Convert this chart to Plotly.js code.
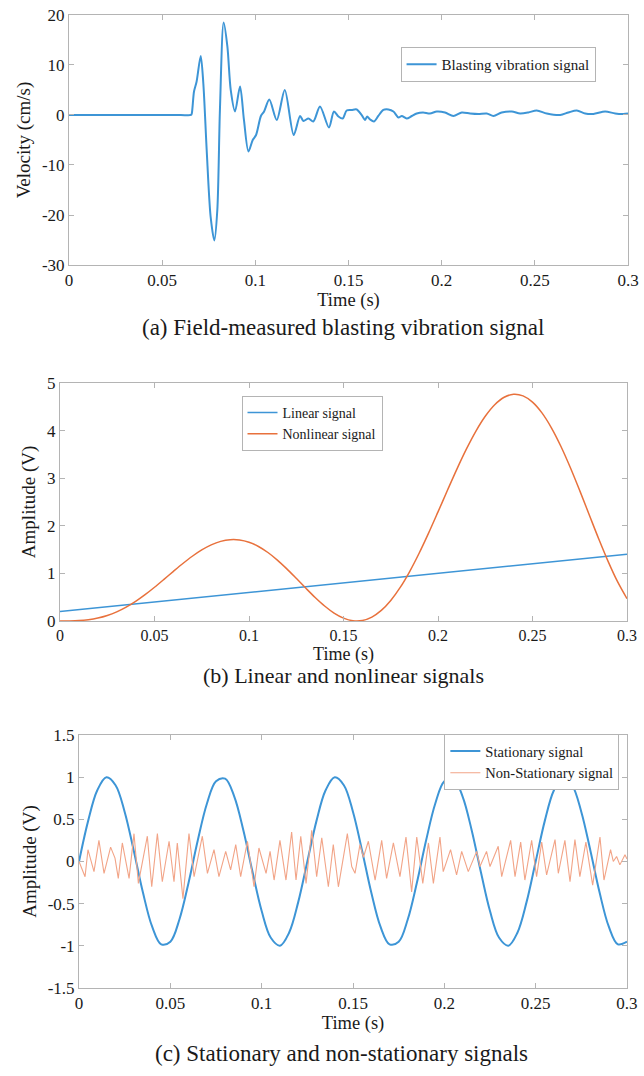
<!DOCTYPE html>
<html><head><meta charset="utf-8">
<script src="https://cdn.plot.ly/plotly-3.0.1.min.js"></script>
<style>html,body{margin:0;padding:0;background:#fff}</style>
</head><body><div id="chart" style="width:644px;height:1076px"></div>
<script>
// ---------- tick labels ----------
const timeTicks = [0, 0.05, 0.1, 0.15, 0.2, 0.25, 0.3];
const timeTickText = ['0', '0.05', '0.1', '0.15', '0.2', '0.25', '0.3'];
const velTicks = [-30, -20, -10, 0, 10, 20];
const velTickText = ['-30', '-20', '-10', '0', '10', '20'];
const ampTicksB = [0, 1, 2, 3, 4, 5];
const ampTickTextB = ['0', '1', '2', '3', '4', '5'];
const ampTicksC = [-1.5, -1, -0.5, 0, 0.5, 1, 1.5];
const ampTickTextC = ['-1.5', '-1', '-0.5', '0', '0.5', '1', '1.5'];

// ---------- (a) field-measured blasting vibration ----------
const blastTime = [0, 0.02, 0.04, 0.06, 0.0655, 0.0659, 0.0671, 0.0685, 0.0707, 0.0721, 0.0739, 0.0760, 0.0780,
  0.0796, 0.0810, 0.0830, 0.0850, 0.0868, 0.0891, 0.0918, 0.0939, 0.0963, 0.0986, 0.1004, 0.1030, 0.1047,
  0.1075, 0.1115, 0.1158, 0.1206, 0.1240, 0.1258, 0.1285, 0.1311, 0.1347, 0.1395, 0.1422, 0.1446, 0.1469,
  0.1490, 0.1517, 0.1544, 0.1570, 0.1589, 0.1600, 0.1616, 0.1637, 0.1660, 0.1687, 0.1714, 0.1741, 0.1768,
  0.1786, 0.1812, 0.1840, 0.1866, 0.1900, 0.1937, 0.1974, 0.2018, 0.2063, 0.2108, 0.2152, 0.2197, 0.2242,
  0.2278, 0.2322, 0.2376, 0.2421, 0.2465, 0.2510, 0.2564, 0.2636, 0.2680, 0.2725, 0.2770, 0.2814, 0.2877,
  0.2931, 0.2975, 0.3000];
const blastVel = [0, 0, 0, 0, 0, 0.3, 4.7, 6.7, 11.8, 6.3, -7, -20.3, -25.1,
  -19, 1, 18.5, 13.7, 5, 0.7, 5.7, -1, -7.3, -5, -4, -0.2, 0.7,
  3.1, -1, 5, -4, -0.2, -1.2, -0.7, -1.3, 1.7, -2.5, 0.7, -0.3, -0.7,
  0.9, 1.0, 1.1, 0, -1.0, -0.3, -0.9, -1.3, -0.2, 1.0, 1.1, 0.7, -0.5,
  -0.2, -0.7, -0.2, 0.3, 0.5, 0.3, 0.7, 0.5, -0.2, 0.5, 0.3, 0.2, 0.3,
  -0.2, 0.5, 0.7, 0.3, 0.5, 0.9, 0.3, 0, 0.5, 0.9, 0.3, 0.2, 0.7,
  0.3, 0.2, 0.3];

// ---------- (b) and (c) common time grid ----------
const timeGrid = [0, 0.005, 0.01, 0.015, 0.02, 0.025, 0.03, 0.035, 0.04, 0.045, 0.05, 0.055, 0.06, 0.065,
  0.07, 0.075, 0.08, 0.085, 0.09, 0.095, 0.1, 0.105, 0.11, 0.115, 0.12, 0.125, 0.13, 0.135, 0.14, 0.145,
  0.15, 0.155, 0.16, 0.165, 0.17, 0.175, 0.18, 0.185, 0.19, 0.195, 0.2, 0.205, 0.21, 0.215, 0.22, 0.225,
  0.23, 0.235, 0.24, 0.245, 0.25, 0.255, 0.26, 0.265, 0.27, 0.275, 0.28, 0.285, 0.29, 0.295, 0.3];

// (b) linear signal
const linearTime = [0, 0.3];
const linearAmp = [0.2, 1.4];
// (b) nonlinear signal
const nonlinearAmp = [0, 0.0010, 0.0079, 0.0262, 0.0607, 0.1149, 0.1913, 0.2905, 0.4117, 0.5522, 0.7081,
  0.8737, 1.0424, 1.2070, 1.3596, 1.4925, 1.5986, 1.6718, 1.7071, 1.7014, 1.6536, 1.5648, 1.4381, 1.2790,
  1.0950, 0.8954, 0.6909, 0.4932, 0.3142, 0.1660, 0.0597, 0.0054, 0.0109, 0.0821, 0.2220, 0.4307, 0.7050,
  1.0387, 1.4226, 1.8448, 2.2910, 2.7453, 3.1905, 3.6093, 3.9844, 4.3001, 4.5421, 4.6992, 4.7632, 4.7295,
  4.5977, 4.3714, 4.0585, 3.6712, 3.2247, 2.7378, 2.2316, 1.7286, 1.2519, 0.8248, 0.4684];

// (c) stationary signal
const stationaryAmp = [0, 0.4818, 0.8443, 0.9980, 0.9048, 0.5878, 0.1253, -0.3681, -0.7705, -0.9823, -0.9511,
  -0.6845, -0.2487, 0.2487, 0.6845, 0.9511, 0.9823, 0.7705, 0.3681, -0.1253, -0.5878, -0.9048, -0.9980,
  -0.8443, -0.4818, 0, 0.4818, 0.8443, 0.9980, 0.9048, 0.5878, 0.1253, -0.3681, -0.7705, -0.9823, -0.9511,
  -0.6845, -0.2487, 0.2487, 0.6845, 0.9511, 0.9823, 0.7705, 0.3681, -0.1253, -0.5878, -0.9048, -0.9980,
  -0.8443, -0.4818, 0, 0.4818, 0.8443, 0.9980, 0.9048, 0.5878, 0.1253, -0.3681, -0.7705, -0.9823, -0.9511];

// (c) non-stationary signal
const nonStatTime = [0, 0.0033, 0.0049, 0.0082, 0.0109, 0.0137, 0.0173, 0.0197, 0.0215, 0.0237, 0.0274, 0.0301,
  0.0325, 0.0374, 0.0398, 0.0429, 0.0456, 0.0493, 0.0520, 0.0538, 0.0569, 0.0602, 0.0630, 0.0675, 0.0703,
  0.0739, 0.0766, 0.0803, 0.0830, 0.0858, 0.0885, 0.0922, 0.0958, 0.0985, 0.1024, 0.1046, 0.1068, 0.1100,
  0.1133, 0.1164, 0.1188, 0.1214, 0.1243, 0.1274, 0.1301, 0.1329, 0.1365, 0.1392, 0.1420, 0.1469, 0.1493,
  0.1511, 0.1538, 0.1557, 0.1584, 0.1621, 0.1657, 0.1684, 0.1721, 0.1757, 0.1790, 0.1821, 0.1849, 0.1882,
  0.1913, 0.1940, 0.1976, 0.1994, 0.2034, 0.2067, 0.2095, 0.2131, 0.2177, 0.2195, 0.2231, 0.2250, 0.2295,
  0.2314, 0.2363, 0.2387, 0.2418, 0.2441, 0.2478, 0.2505, 0.2533, 0.2560, 0.2606, 0.2624, 0.2660, 0.2688,
  0.2715, 0.2742, 0.2775, 0.2812, 0.2852, 0.2874, 0.2898, 0.2910, 0.2925, 0.2943, 0.2961, 0.2989, 0.3000];
const nonStatAmp = [0, -0.18, 0.14, -0.12, 0.25, -0.14, 0.17, 0.04, -0.20, 0.22, -0.20, 0.33,
  -0.26, 0.30, -0.30, 0.33, -0.24, 0.24, -0.24, 0.22, -0.44, 0.33, -0.18, 0.30, -0.14,
  0.14, -0.18, 0.12, -0.10, 0.20, -0.18, 0.24, -0.30, 0.16, -0.14, 0.12, -0.22, 0.25,
  -0.22, 0.35, -0.22, 0.30, -0.26, 0.37, -0.18, 0.28, -0.30, 0.20, -0.30, 0.33, -0.06,
  -0.14, 0.20, 0.05, 0.24, -0.22, 0.25, -0.20, 0.22, -0.18, 0.29, -0.36, 0.29, -0.26,
  0.22, -0.26, 0.29, -0.12, 0.14, -0.16, 0.12, -0.12, 0.12, -0.06, 0.12, -0.06, 0.18,
  -0.18, 0.25, -0.18, 0.23, -0.22, 0.25, -0.18, 0.23, -0.16, 0.26, -0.14, 0.25, -0.24,
  0.26, -0.18, 0.23, -0.28, 0.29, -0.22, 0.02, 0.14, 0.00, 0.06, -0.04, 0.08, 0.03];

// ---------- styling ----------
const FONT = 'Liberation Serif, Times New Roman, serif';
const BLUE = '#3d95d6';
const ORANGE = '#e8713c';
const LIGHT_ORANGE = '#f2a487';
const AX = '#b4b4b4';
const TXT = '#1a1a1a';

function xAxis(domain, anchor, tickSize, titleSize, standoff) {
  return {
    domain: domain, anchor: anchor, range: [0, 0.3], tickvals: timeTicks, ticktext: timeTickText,
    showline: true, linecolor: AX, linewidth: 1, mirror: 'ticks', ticks: 'inside', ticklen: 5, tickcolor: AX,
    showgrid: false, zeroline: false, tickfont: {family: FONT, size: tickSize, color: TXT},
    title: {text: 'Time (s)', font: {family: FONT, size: titleSize, color: TXT}, standoff: standoff}
  };
}
function yAxis(domain, anchor, range, vals, text, title) {
  return {
    domain: domain, anchor: anchor, range: range, tickvals: vals, ticktext: text,
    showline: true, linecolor: AX, linewidth: 1, mirror: 'ticks', ticks: 'inside', ticklen: 5, tickcolor: AX,
    showgrid: false, zeroline: false, tickfont: {family: FONT, size: 17, color: TXT},
    title: {text: title, font: {family: FONT, size: 19, color: TXT}, standoff: 6}
  };
}
function legendBox(x, yPix, size) {
  return {x: x, y: 1 - yPix / 1076, xanchor: 'left', yanchor: 'top', bgcolor: '#ffffff', bordercolor: AX,
    borderwidth: 1, font: {family: FONT, size: size, color: TXT}, itemwidth: 30, tracegroupgap: 0};
}

const traces = [
  {x: blastTime, y: blastVel, xaxis: 'x', yaxis: 'y', mode: 'lines', name: 'Blasting vibration signal',
   line: {color: BLUE, width: 2, shape: 'spline', smoothing: 0.8}, legend: 'legend'},
  {x: linearTime, y: linearAmp, xaxis: 'x2', yaxis: 'y2', mode: 'lines', name: 'Linear signal',
   line: {color: BLUE, width: 1.5}, legend: 'legend2'},
  {x: timeGrid, y: nonlinearAmp, xaxis: 'x2', yaxis: 'y2', mode: 'lines', name: 'Nonlinear signal',
   line: {color: ORANGE, width: 1.5, shape: 'spline'}, legend: 'legend2'},
  {x: timeGrid, y: stationaryAmp, xaxis: 'x3', yaxis: 'y3', mode: 'lines', name: 'Stationary signal',
   line: {color: BLUE, width: 2, shape: 'spline'}, legend: 'legend3'},
  {x: nonStatTime, y: nonStatAmp, xaxis: 'x3', yaxis: 'y3', mode: 'lines', name: 'Non-Stationary signal',
   line: {color: LIGHT_ORANGE, width: 1.1}, legend: 'legend3'}
];

const layout = {
  width: 644, height: 1076, margin: {l: 0, r: 0, t: 0, b: 0},
  paper_bgcolor: '#ffffff', plot_bgcolor: '#ffffff', showlegend: true,
  font: {family: FONT, color: TXT},
  xaxis: xAxis([0.1071, 0.9752], 'y', 17, 18.5, 2),
  yaxis: yAxis([0.7537, 0.9861], 'x', [-30, 20], velTicks, velTickText, 'Velocity (cm/s)'),
  xaxis2: xAxis([0.0932, 0.9736], 'y2', 16, 18, 0),
  yaxis2: yAxis([0.4229, 0.6441], 'x2', [0, 5], ampTicksB, ampTickTextB, 'Amplitude (V)'),
  xaxis3: xAxis([0.1227, 0.9736], 'y3', 17, 18.5, 2),
  yaxis3: yAxis([0.0818, 0.3169], 'x3', [-1.5, 1.5], ampTicksC, ampTickTextC, 'Amplitude (V)'),
  legend: legendBox(0.622, 47, 15),
  legend2: legendBox(0.375, 396, 14),
  legend3: legendBox(0.69, 734, 14.5),
  annotations: [
    {text: '(a) Field-measured blasting vibration signal', xref: 'paper', yref: 'paper', x: 0.532, y: 1 - 327 / 1076,
     xanchor: 'center', yanchor: 'middle', showarrow: false, font: {family: FONT, size: 23, color: TXT}},
    {text: '(b) Linear and nonlinear signals', xref: 'paper', yref: 'paper', x: 0.533, y: 1 - 675 / 1076,
     xanchor: 'center', yanchor: 'middle', showarrow: false, font: {family: FONT, size: 22, color: TXT}},
    {text: '(c) Stationary and non-stationary signals', xref: 'paper', yref: 'paper', x: 0.53, y: 1 - 1053 / 1076,
     xanchor: 'center', yanchor: 'middle', showarrow: false, font: {family: FONT, size: 23, color: TXT}}
  ]
};

Plotly.newPlot('chart', traces, layout, {displayModeBar: false, staticPlot: true});
</script></body></html>
